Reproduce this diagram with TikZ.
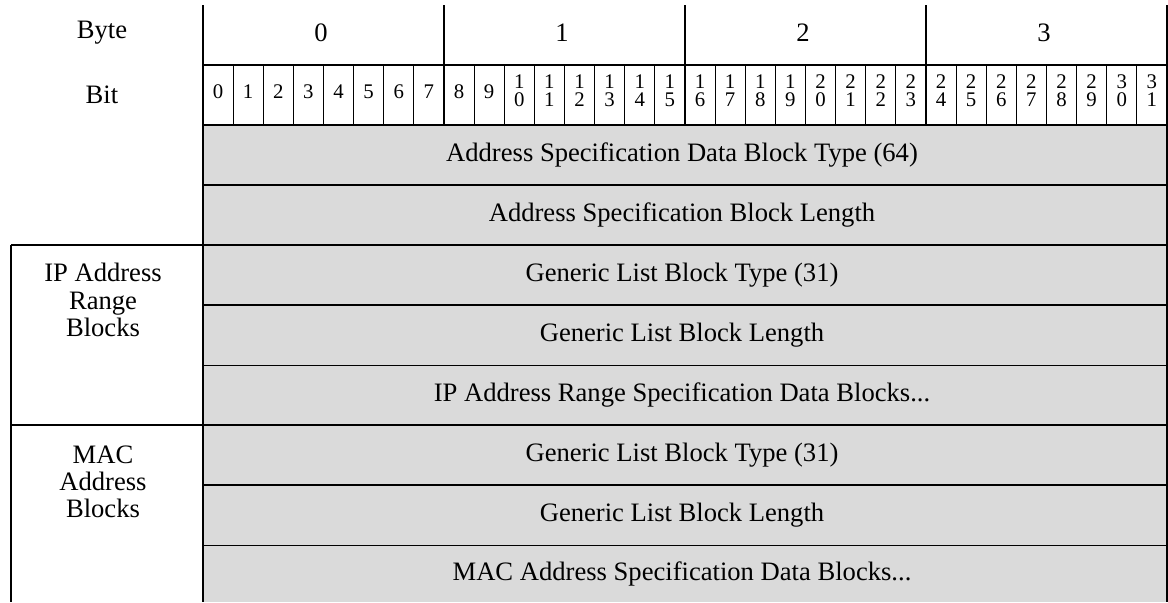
\documentclass[tikz,border=0pt]{standalone}
\usepackage{fontspec}
\setmainfont{Liberation Serif}
\usepackage{tikz}
\usetikzlibrary{calc}
\definecolor{fieldgray}{RGB}{218,218,218}

\begin{document}
\begin{tikzpicture}[x=0.5pt, y=-0.5pt,
  thickline/.style={line width=0.9pt},
  thinline/.style={line width=0.5pt},
  lbl/.style={font=\fontsize{13.3}{13.6}\selectfont, align=center, inner sep=0pt},
  bitlbl/.style={font=\fontsize{10.4}{9}\selectfont, align=center, inner sep=0pt}]

\useasboundingbox (0,0) rectangle (1168,602);

% sfondo grigio dei campi
\fill[fieldgray] (203,125) rectangle (1167,602);

% intestazione
\node[lbl] (byte) at (102,33) {Byte};
\node[lbl] (bit) at (102,95) {Bit};
\foreach \b in {0,...,3}
  \node[lbl] (byte\b) at ({321+241*\b},33) {\b};

% numeri dei bit
\foreach \i in {0,...,31} {
  \pgfmathtruncatemacro\tens{\i/10}
  \pgfmathtruncatemacro\units{\i-10*\tens}
  \ifnum\i<10
    \node[bitlbl] (bit\i) at ({218+30.125*\i},92) {\i};
  \else
    \node[bitlbl] (bit\i) at ({218+30.125*\i},91) {\tens\\\units};
  \fi
}

% campi
\node[lbl] (dbtype) at (682,155) {Address Specification Data Block Type (64)};
\node[lbl] (dblen) at (682,215) {Address Specification Block Length};
\node[lbl] (iptype) at (682,275) {Generic List Block Type (31)};
\node[lbl] (iplen) at (682,335) {Generic List Block Length};
\node[lbl] (ipdata) at (682,395) {IP Address Range Specification Data Blocks...};
\node[lbl] (mactype) at (682,455) {Generic List Block Type (31)};
\node[lbl] (maclen) at (682,515) {Generic List Block Length};
\node[lbl] (macdata) at (682,574) {MAC Address Specification Data Blocks...};

% gruppi a sinistra
\node[lbl, anchor=north] (ipgroup) at (103,263) {IP Address\\Range\\Blocks};
\node[lbl, anchor=north] (macgroup) at (103,445) {MAC\\Address\\Blocks};

% divisori dei bit
\foreach \i in {1,...,31}
  \draw[thinline] ({203+30.125*\i},65) -- ({203+30.125*\i},125);

% linee verticali
\draw[thickline] (203,5) -- (203,602);
\draw[thickline] (1167,5) -- (1167,602);
\foreach \b in {1,2,3}
  \draw[thickline] ({203+241*\b},5) -- ({203+241*\b},125);
\draw[thickline] (11,245) -- (11,602);

% linee orizzontali
\foreach \y in {65,125,185,305,485}
  \draw[thickline] (203,\y) -- (1167,\y);
\foreach \y in {245,425}
  \draw[thickline] (11,\y) -- (1167,\y);
\foreach \y in {365,545}
  \draw[thinline] (203,\y) -- (1167,\y);

\end{tikzpicture}
\end{document}
